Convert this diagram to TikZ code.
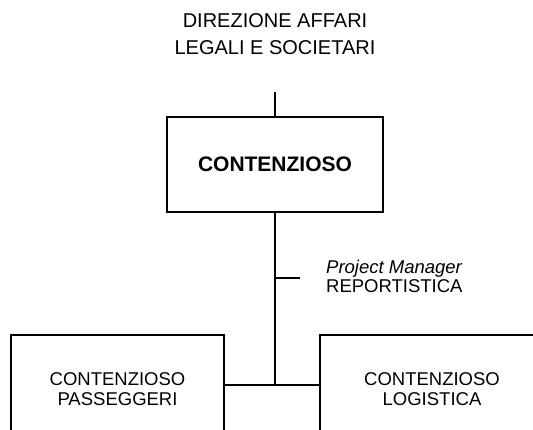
\documentclass[tikz,border=0pt]{standalone}
\usepackage{fontspec}
\setmainfont{Liberation Sans}
\begin{document}
\begin{tikzpicture}[x=1pt,y=-1pt,
  box/.style={draw,line width=1.2pt,inner sep=0pt,align=center},
  conn/.style={line width=1.2pt},
  lbl/.style={inner sep=0pt,align=center}]
\useasboundingbox (0,0) rectangle (533,430);
\clip (0,0) rectangle (533,430);
\node[lbl,font=\fontsize{20}{27}\selectfont] (head) at (275,34) {DIREZIONE AFFARI\\LEGALI E SOCIETARI};
\coordinate (topend) at (275,92);
\node[box,minimum width=216pt,minimum height=95pt,font=\fontsize{21}{24}\selectfont\bfseries] (cont) at (275,164.5) {CONTENZIOSO};
\node[box,minimum width=213pt,minimum height=108pt,font=\fontsize{18.5}{20}\selectfont] (pass) at (117.5,389) {CONTENZIOSO\\PASSEGGERI};
\node[box,minimum width=224pt,minimum height=108pt,font=\fontsize{18.5}{20}\selectfont] (logi) at (432,389) {CONTENZIOSO\\LOGISTICA};
\coordinate (junc) at (275,385);
\coordinate (tickstart) at (275,278);
\coordinate (tickend) at (300,278);
\node[lbl,anchor=west,align=left,font=\fontsize{18.5}{19}\selectfont] (pm) at (326,276) {\textit{Project Manager}\\REPORTISTICA};
\draw[conn] (topend) -- (cont.north);
\draw[conn] (cont.south) -- (junc);
\draw[conn] (tickstart) -- (tickend);
\draw[conn] (pass.east |- junc) -- (logi.west |- junc);
\end{tikzpicture}
\end{document}
